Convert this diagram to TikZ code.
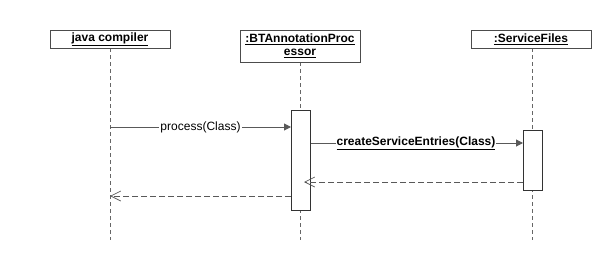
\documentclass[tikz,border=0pt]{standalone}
\usepackage{fontspec}
\setmainfont{Liberation Sans}
\usetikzlibrary{arrows.meta}
\tikzset{
  lifebox/.style={draw=black!70, line width=1pt, fill=white, minimum width=120pt, inner sep=1pt, font=\fontsize{12}{14}\selectfont\bfseries, align=center},
  lifeline/.style={draw=black!60, dashed, dash pattern=on 4pt off 3pt, line width=0.8pt},
  actbox/.style={draw=black!80, line width=0.8pt, fill=white},
  call/.style={draw=black!65, line width=1pt, -{Triangle[length=7pt,width=7pt]}},
  reply/.style={draw=black!65, line width=1pt, dashed, dash pattern=on 6pt off 3pt, -{Straight Barb[length=10pt,width=10pt,line width=0.7pt]}},
  msglabel/.style={fill=white, inner sep=1pt, font=\fontsize{12}{14}\selectfont}
}
\begin{document}
\begin{tikzpicture}[x=1pt, y=-1pt, font=\fontsize{12}{14}\selectfont]
            \useasboundingbox (0,0) rectangle (613,260);
            % lifelines first, heads and activations on top
            \draw[lifeline] (110,48) -- (110,240);
            \draw[lifeline] (300,62) -- (300,240);
            \draw[lifeline] (532,48) -- (532,240);
            \node[lifebox, minimum height=18pt] (compiler) at (110,39) {\underline{java compiler}};
            \node[lifebox, minimum height=32pt] (processor) at (300,46) {\underline{:BTAnnotationProc}\\[-1pt]\underline{essor}};
            \node[lifebox, minimum height=18pt] (files) at (531,39) {\underline{:ServiceFiles}};
            \draw[actbox] (291,110) rectangle (310,210);
            \draw[actbox] (523,130) rectangle (542,190);
            \coordinate (c1) at (110,127);
            \coordinate (p1) at (291,127);
            \coordinate (p2) at (311,143);
            \coordinate (f2) at (523,143);
            \coordinate (f3) at (523,182);
            \coordinate (p3) at (304,182);
            \coordinate (p4) at (291,196);
            \coordinate (c4) at (110,196);
            % messages
            \draw[call] (c1) -- node[msglabel] {process(Class)} (p1);
            \draw[call] (p2) -- node[msglabel, font=\fontsize{12}{14}\selectfont\bfseries, xshift=-1pt] {\underline{createServiceEntries(Class)}} (f2);
            \draw[reply] (f3) -- (p3);
            \draw[reply] (p4) -- (c4);
        \end{tikzpicture}
\end{document}
